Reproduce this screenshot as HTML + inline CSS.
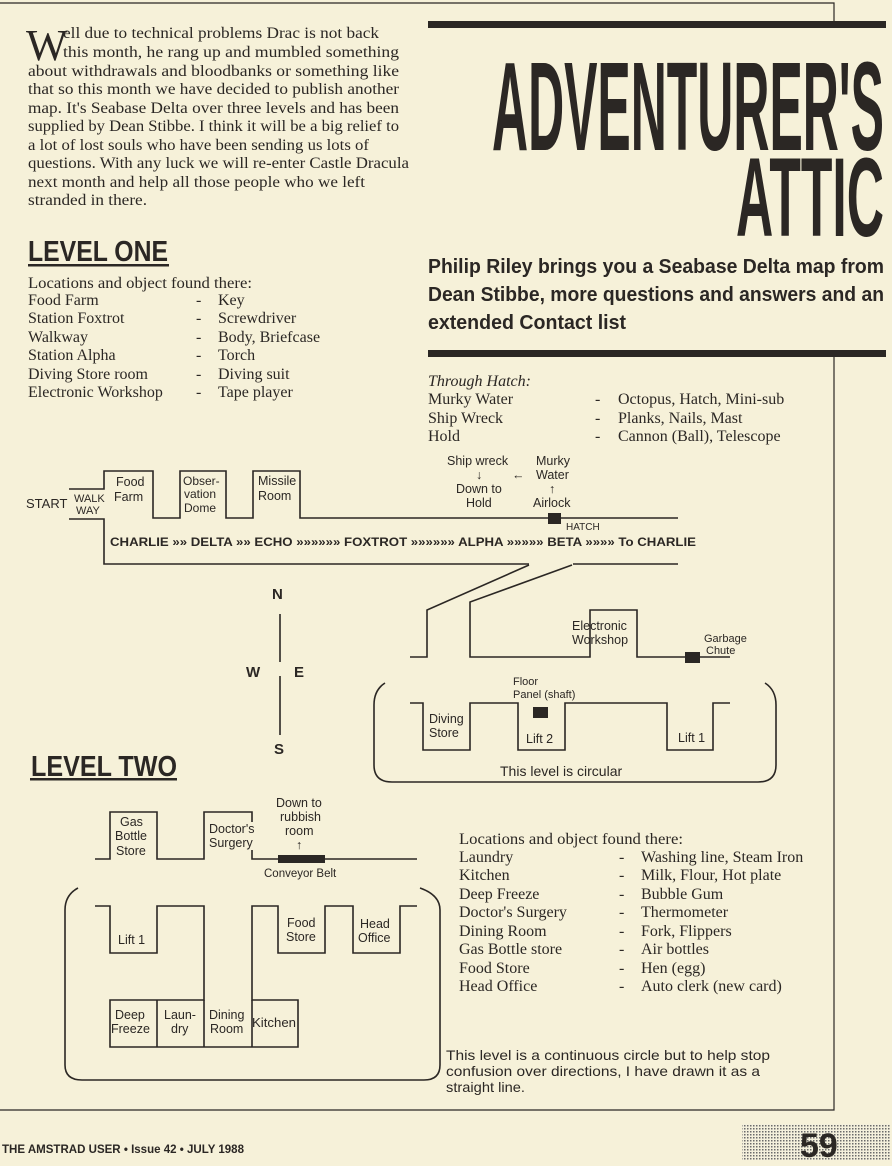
<!DOCTYPE html>
<html><head><meta charset="utf-8"><style>
html,body{margin:0;padding:0;background:#f6f1d9;}
svg{display:block}
.s{font-family:"Liberation Serif",serif;font-size:16px;fill:#2b2724}
.a{font-family:"Liberation Sans",sans-serif;fill:#2b2724}
.n{font-family:"Liberation Sans Narrow","Liberation Sans",sans-serif;font-weight:bold;fill:#2b2724}
</style></head><body>
<svg width="892" height="1166" viewBox="0 0 892 1166" xmlns="http://www.w3.org/2000/svg">
<defs>
<pattern id="dots" width="3" height="3" patternUnits="userSpaceOnUse"><rect width="3" height="3" fill="#f4f0dc"/><rect width="1.5" height="1.5" fill="#6a6a6a"/></pattern>
</defs>
<rect width="892" height="1166" fill="#f6f1d9"/>
<g stroke="#2b2724" stroke-width="1.2" fill="none">
<path d="M0,3 H834 V22 M834,356 V1110 H0"/>
</g>

<!-- intro text -->
<text x="26" y="60" font-family="Liberation Serif,serif" font-size="44" fill="#2b2724">W</text>
<g class="s" font-size="15">
<text x="63" y="38" textLength="316" lengthAdjust="spacingAndGlyphs">ell due to technical problems Drac is not back</text>
<text x="63" y="57" textLength="336" lengthAdjust="spacingAndGlyphs">this month, he rang up and mumbled something</text>
<text x="28" y="76" textLength="371" lengthAdjust="spacingAndGlyphs">about withdrawals and bloodbanks or something like</text>
<text x="28" y="94" textLength="371" lengthAdjust="spacingAndGlyphs">that so this month we have decided to publish another</text>
<text x="28" y="113" textLength="371" lengthAdjust="spacingAndGlyphs">map. It's Seabase Delta over three levels and has been</text>
<text x="28" y="131" textLength="371" lengthAdjust="spacingAndGlyphs">supplied by Dean Stibbe. I think it will be a big relief to</text>
<text x="28" y="150" textLength="341" lengthAdjust="spacingAndGlyphs">a lot of lost souls who have been sending us lots of</text>
<text x="28" y="168" textLength="381" lengthAdjust="spacingAndGlyphs">questions. With any luck we will re-enter Castle Dracula</text>
<text x="28" y="187" textLength="337" lengthAdjust="spacingAndGlyphs">next month and help all those people who we left</text>
<text x="28" y="205" textLength="119" lengthAdjust="spacingAndGlyphs">stranded in there.</text>
</g>

<!-- header -->
<rect x="428" y="21" width="458" height="7" fill="#2b2724"/>
<text class="n" x="492" y="150" font-size="126" textLength="392" lengthAdjust="spacingAndGlyphs">ADVENTURER'S</text>
<text class="n" x="736" y="236" font-size="112" textLength="148" lengthAdjust="spacingAndGlyphs">ATTIC</text>
<g class="n" font-size="20">
<text x="428" y="273" textLength="456" lengthAdjust="spacingAndGlyphs">Philip Riley brings you a Seabase Delta map from</text>
<text x="428" y="301" textLength="456" lengthAdjust="spacingAndGlyphs">Dean Stibbe, more questions and answers and an</text>
<text x="428" y="329" textLength="198" lengthAdjust="spacingAndGlyphs">extended Contact list</text>
</g>
<rect x="428" y="350" width="458" height="7" fill="#2b2724"/>

<!-- level one list -->
<text class="n" x="28" y="261" font-size="29" textLength="140" lengthAdjust="spacingAndGlyphs">LEVEL ONE</text>
<rect x="28" y="264" width="141" height="2.5" fill="#2b2724"/>
<g class="s">
<text x="28" y="288" textLength="224" lengthAdjust="spacingAndGlyphs">Locations and object found there:</text>
<text x="28" y="305">Food Farm</text><text x="196" y="305">-</text><text x="218" y="305">Key</text>
<text x="28" y="323">Station Foxtrot</text><text x="196" y="323">-</text><text x="218" y="323">Screwdriver</text>
<text x="28" y="342">Walkway</text><text x="196" y="342">-</text><text x="218" y="342">Body, Briefcase</text>
<text x="28" y="360">Station Alpha</text><text x="196" y="360">-</text><text x="218" y="360">Torch</text>
<text x="28" y="379">Diving Store room</text><text x="196" y="379">-</text><text x="218" y="379">Diving suit</text>
<text x="28" y="397">Electronic Workshop</text><text x="196" y="397">-</text><text x="218" y="397">Tape player</text>
</g>

<!-- through hatch -->
<g class="s">
<text x="428" y="386" font-style="italic">Through Hatch:</text>
<text x="428" y="404">Murky Water</text><text x="595" y="404">-</text><text x="618" y="404">Octopus, Hatch, Mini-sub</text>
<text x="428" y="423">Ship Wreck</text><text x="595" y="423">-</text><text x="618" y="423">Planks, Nails, Mast</text>
<text x="428" y="441">Hold</text><text x="595" y="441">-</text><text x="618" y="441">Cannon (Ball), Telescope</text>
</g>

<!-- level one map -->
<g stroke="#2b2724" stroke-width="1.6" fill="none">
<path d="M69,489 H104 V471 H153 V518 H180 V471 H226 V518 H253 V471 H300 V518 H678"/>
<path d="M69,519 H104 V564 H529"/>
<path d="M573,564 H678"/>
<path d="M529,565 L427,610 V657 H410"/>
<path d="M572,565 L470,602 V657 H590 V610 H637 V657 H730"/>
<path d="M410,703 H423 V750 H470 V703 H518 V750 H565 V703 H667 V750 H713 V703 H730"/>
<path d="M385,683 Q374,690 374,705 V765 Q374,782 392,782 H758 Q776,782 776,765 V705 Q776,690 765,683"/>
<path d="M280,612 V735 M264,668 H292"/>
</g>
<rect x="253" y="662" width="54" height="14" fill="#f6f1d9"/>
<rect x="273" y="604" width="14" height="10" fill="#f6f1d9"/>
<rect x="548" y="513" width="13" height="11" fill="#2b2724"/>
<rect x="685" y="652" width="15" height="11" fill="#2b2724"/>
<rect x="533" y="707" width="15" height="11" fill="#2b2724"/>
<g class="a" font-size="12.5">
<text x="26" y="508" font-size="13">START</text>
<text x="74" y="502" font-size="11">WALK</text>
<text x="76" y="514" font-size="11">WAY</text>
<text x="116" y="486">Food</text><text x="114" y="501">Farm</text>
<text x="183" y="485" font-size="12">Obser-</text><text x="184" y="498" font-size="12">vation</text><text x="184" y="512" font-size="12">Dome</text>
<text x="258" y="485">Missile</text><text x="258" y="500">Room</text>
<text x="447" y="465">Ship wreck</text><text x="536" y="465">Murky</text>
<text x="512" y="479">←</text><text x="536" y="479">Water</text>
<text x="476" y="479">↓</text>
<text x="456" y="493">Down to</text><text x="549" y="493">↑</text>
<text x="466" y="507">Hold</text><text x="533" y="507">Airlock</text>
<text x="566" y="530" font-size="10">HATCH</text>
<text x="110" y="546" font-size="11.5" font-weight="bold" textLength="586" lengthAdjust="spacingAndGlyphs">CHARLIE »» DELTA   »»   ECHO »»»»»» FOXTROT »»»»»» ALPHA »»»»» BETA    »»»» To CHARLIE</text>
<text x="272" y="599" font-weight="bold" font-size="15">N</text>
<text x="246" y="677" font-weight="bold" font-size="15">W</text>
<text x="294" y="677" font-weight="bold" font-size="15">E</text>
<text x="274" y="754" font-weight="bold" font-size="15">S</text>
<text x="572" y="630">Electronic</text><text x="572" y="644">Workshop</text>
<text x="704" y="642" font-size="11">Garbage</text><text x="706" y="654" font-size="11">Chute</text>
<text x="513" y="685" font-size="11">Floor</text><text x="513" y="698" font-size="11">Panel (shaft)</text>
<text x="429" y="723">Diving</text><text x="429" y="737">Store</text>
<text x="526" y="743">Lift 2</text>
<text x="678" y="742">Lift 1</text>
<text x="500" y="776" font-size="14">This level is circular</text>
</g>

<!-- level two -->
<text class="n" x="31" y="776" font-size="29" textLength="146" lengthAdjust="spacingAndGlyphs">LEVEL TWO</text>
<rect x="30" y="778" width="147" height="2.5" fill="#2b2724"/>
<g stroke="#2b2724" stroke-width="1.6" fill="none">
<path d="M95,859 H110 V812 H157 V859 H204 V812 H252 V822 M252,850 V859 H417"/>
<path d="M78,888 Q65,895 65,910 V1065 Q65,1080 82,1080 H424 Q440,1080 440,1065 V910 Q440,895 420,888"/>
<path d="M95,906 H110 V953 H157 V906 H204 V1000 H110 V1047 H298 V1000 H252 V906 H278 V953 H325 V906 H353 V953 H400 V906 H417"/>
<path d="M157,1000 V1047 M204,1000 V1047 M252,1000 V1047"/>
</g>
<rect x="278" y="855" width="47" height="8" fill="#2b2724"/>
<g class="a" font-size="12.5">
<text x="120" y="826">Gas</text><text x="115" y="840">Bottle</text><text x="116" y="855">Store</text>
<text x="209" y="833">Doctor's</text><text x="209" y="847">Surgery</text>
<text x="276" y="807">Down to</text><text x="280" y="821">rubbish</text><text x="285" y="835">room</text><text x="296" y="849">↑</text>
<text x="264" y="877" font-size="11.5">Conveyor Belt</text>
<text x="118" y="944">Lift 1</text>
<text x="287" y="927">Food</text><text x="286" y="941">Store</text>
<text x="360" y="928">Head</text><text x="358" y="942">Office</text>
<text x="115" y="1019">Deep</text><text x="111" y="1033">Freeze</text>
<text x="164" y="1019">Laun-</text><text x="171" y="1033">dry</text>
<text x="209" y="1019">Dining</text><text x="210" y="1033">Room</text>
<text x="252" y="1027" textLength="44" lengthAdjust="spacingAndGlyphs">Kitchen</text>
</g>
<g class="s">
<text x="459" y="844" textLength="224" lengthAdjust="spacingAndGlyphs">Locations and object found there:</text>
<text x="459" y="862">Laundry</text><text x="619" y="862">-</text><text x="641" y="862">Washing line, Steam Iron</text>
<text x="459" y="880">Kitchen</text><text x="619" y="880">-</text><text x="641" y="880">Milk, Flour, Hot plate</text>
<text x="459" y="899">Deep Freeze</text><text x="619" y="899">-</text><text x="641" y="899">Bubble Gum</text>
<text x="459" y="917">Doctor's Surgery</text><text x="619" y="917">-</text><text x="641" y="917">Thermometer</text>
<text x="459" y="936">Dining Room</text><text x="619" y="936">-</text><text x="641" y="936">Fork, Flippers</text>
<text x="459" y="954">Gas Bottle store</text><text x="619" y="954">-</text><text x="641" y="954">Air bottles</text>
<text x="459" y="973">Food Store</text><text x="619" y="973">-</text><text x="641" y="973">Hen (egg)</text>
<text x="459" y="991">Head Office</text><text x="619" y="991">-</text><text x="641" y="991">Auto clerk (new card)</text>
</g>
<g class="a" font-size="14">
<text x="446" y="1060" textLength="324" lengthAdjust="spacingAndGlyphs">This level is a continuous circle but to help stop</text>
<text x="446" y="1076" textLength="314" lengthAdjust="spacingAndGlyphs">confusion over directions, I have drawn it as a</text>
<text x="446" y="1092" textLength="79" lengthAdjust="spacingAndGlyphs">straight line.</text>
</g>

<!-- footer -->
<text class="n" x="2" y="1153" font-size="12" textLength="242" lengthAdjust="spacingAndGlyphs">THE AMSTRAD USER  •  Issue 42 • JULY 1988</text>
<rect x="742" y="1124" width="148" height="36" fill="url(#dots)"/>
<text class="n" x="800" y="1157" font-size="34" fill="#333">59</text>
</svg>
</body></html>
